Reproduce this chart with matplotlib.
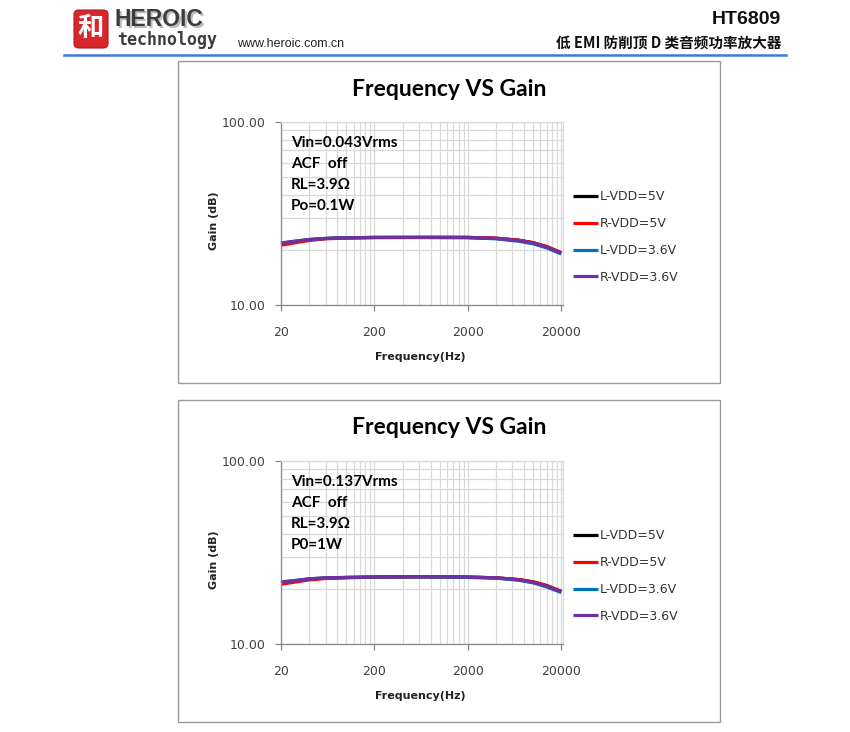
import numpy as np
import matplotlib
matplotlib.use("Agg")
import matplotlib.pyplot as plt
from matplotlib.patches import Rectangle, FancyBboxPatch
from matplotlib.lines import Line2D
from matplotlib.ticker import FixedLocator, NullFormatter, FixedFormatter

W, H = 850, 732

# ---- data ----
freq = [20, 30, 40, 60, 100, 200, 500, 1000, 2000, 4000, 7000, 10000, 14000, 20000]

series_names = ["L-VDD=5V", "R-VDD=5V", "L-VDD=3.6V", "R-VDD=3.6V"]
series_colors = ["#000000", "#ff0000", "#0070c0", "#7030a0"]

gain1_l5 = [21.6, 22.3, 22.7, 23.1, 23.3, 23.4, 23.4, 23.4, 23.4, 23.15, 22.6, 21.9, 20.8, 19.3]
gain1_r5 = [21.2, 22.0, 22.5, 23.0, 23.2, 23.4, 23.4, 23.45, 23.4, 23.2, 22.6, 21.9, 20.9, 19.3]
gain1_l36 = [21.8, 22.4, 22.8, 23.1, 23.3, 23.35, 23.4, 23.35, 23.3, 23.0, 22.3, 21.6, 20.5, 19.0]
gain1_r36 = [21.8, 22.4, 22.8, 23.1, 23.3, 23.4, 23.4, 23.4, 23.4, 23.1, 22.5, 21.8, 20.7, 19.2]

gain2_l5 = [21.6, 22.2, 22.6, 22.9, 23.1, 23.2, 23.3, 23.3, 23.2, 23.0, 22.5, 21.8, 20.8, 19.4]
gain2_r5 = [21.2, 21.9, 22.4, 22.8, 23.0, 23.2, 23.3, 23.3, 23.2, 23.0, 22.5, 21.9, 20.9, 19.4]
gain2_l36 = [21.8, 22.3, 22.7, 23.0, 23.1, 23.2, 23.3, 23.2, 23.1, 22.9, 22.3, 21.6, 20.5, 19.1]
gain2_r36 = [21.8, 22.3, 22.7, 23.0, 23.1, 23.2, 23.3, 23.3, 23.2, 23.0, 22.4, 21.7, 20.7, 19.3]

notes1 = ["Vin=0.043Vrms", "ACF  off", "RL=3.9\u03a9", "Po=0.1W"]
notes2 = ["Vin=0.137Vrms", "ACF  off", "RL=3.9\u03a9", "P0=1W"]

x_ticks = [20, 200, 2000, 20000]
x_minor = [20 * k * 10 ** n for n in range(3) for k in range(2, 10)]
y_ticks = [10, 100]
y_minor = [20, 30, 40, 50, 60, 70, 80, 90]

title = "Frequency VS Gain"
cn_title = "低 EMI 防削顶 D 类音频功率放大器"


def px(x, y):
    # pixel (from top-left) -> figure fraction
    return x / W, 1 - y / H


fig = plt.figure(figsize=(W / 100, H / 100), dpi=100)
fig.patch.set_facecolor("white")

# ---- header ----
lx, ly = px(74, 48)
fig.patches.append(FancyBboxPatch((lx, ly), 34 / W, 38 / H, boxstyle="round,pad=0,rounding_size=0.006",
                                  transform=fig.transFigure, facecolor="#d8262c", edgecolor="#b01a20", lw=0.8))
fig.text(*px(91, 29), "和", fontsize=19, color="white", ha="center", va="center",
         family=["Noto Sans CJK SC", "DejaVu Sans"], fontweight="bold")
fig.text(*px(116.5, 21.5), "HEROIC", fontsize=16.5, fontweight="bold", color="#bbbbbb", ha="left", va="center",
         family="Liberation Sans")
fig.text(*px(115, 20), "HEROIC", fontsize=16.5, fontweight="bold", color="#3c3c3c", ha="left", va="center",
         family="Liberation Sans")
fig.text(*px(117, 40), "technology", fontsize=12, fontweight="bold", color="#3c3c3c", ha="left",
         va="center", family="DejaVu Sans Mono")
fig.text(*px(237, 44), "www.heroic.com.cn", fontsize=9, color="#222222", ha="left", va="center",
         family="Liberation Sans")
fig.text(*px(781, 20), "HT6809", fontsize=14, fontweight="bold", color="#111111", ha="right", va="center",
         family="Liberation Sans")
fig.text(*px(781, 44), cn_title, fontsize=10.5, fontweight="bold", color="#111111", ha="right", va="center",
         family=["Noto Sans CJK SC", "DejaVu Sans"])
fig.lines.append(Line2D([64 / W, 786 / W], [1 - 55 / H, 1 - 55 / H], transform=fig.transFigure,
                        color="#3f78dc", lw=1.8))


def draw_chart(top, gains, notes):
    # outer chart box
    bx, by = px(178, top + 322)
    fig.patches.append(Rectangle((bx, by), 542 / W, 322 / H, transform=fig.transFigure,
                                 facecolor="none", edgecolor="#9a9a9a", lw=1.0, zorder=-1))
    fig.text(*px(449, top + 28), title, fontsize=16.5, fontweight="bold", ha="center", va="center",
             family="Lato", color="#000000")

    left, right = 281, 563
    ytop, ybot = top + 61, top + 244
    ax = fig.add_axes([left / W, 1 - ybot / H, (right - left) / W, (ybot - ytop) / H])
    ax.patch.set_alpha(0)
    ax.set_xscale("log")
    ax.set_yscale("log")
    ax.set_xlim(20, 20900)
    ax.set_ylim(10, 100)

    ax.xaxis.set_major_locator(FixedLocator(x_ticks))
    ax.xaxis.set_major_formatter(FixedFormatter([str(t) for t in x_ticks]))
    ax.xaxis.set_minor_locator(FixedLocator(x_minor))
    ax.xaxis.set_minor_formatter(NullFormatter())
    ax.yaxis.set_major_locator(FixedLocator(y_ticks))
    ax.yaxis.set_major_formatter(FixedFormatter(["%.2f" % t for t in y_ticks]))
    ax.yaxis.set_minor_locator(FixedLocator(y_minor))
    ax.yaxis.set_minor_formatter(NullFormatter())

    ax.grid(True, which="both", color="#d9d9d9", lw=0.9)
    ax.set_axisbelow(True)
    ax.tick_params(which="major", length=4, width=0.9, color="#868686", labelsize=9,
                   labelcolor="#404040", direction="out")
    ax.tick_params(axis="x", which="major", pad=11)
    ax.tick_params(axis="y", which="major", pad=7)
    ax.tick_params(which="minor", length=0)
    for lab in ax.get_xticklabels() + ax.get_yticklabels():
        lab.set_family("DejaVu Sans")
    for s in ["left", "bottom"]:
        ax.spines[s].set_color("#868686")
        ax.spines[s].set_linewidth(0.9)
    for s in ["top", "right"]:
        ax.spines[s].set_color("#d9d9d9")
        ax.spines[s].set_linewidth(0.9)

    for g, name, c in zip(gains, series_names, series_colors):
        ax.plot(freq, g, color=c, lw=2.3, label=name, solid_capstyle="butt", clip_on=False)

    for i, t in enumerate(notes):
        ax.text(0.035, (ybot - (top + 82 + 21 * i)) / (ybot - ytop), t, transform=ax.transAxes,
                fontsize=11, fontweight="bold", family="Lato", ha="left", va="center")

    ax.text((214 - left) / (right - left), (ybot - (top + 160)) / (ybot - ytop), "Gain (dB)",
            transform=ax.transAxes, rotation=90, fontsize=8, fontweight="bold", family="DejaVu Sans",
            ha="center", va="center", color="#222222")
    ax.text((420 - left) / (right - left), (ybot - (top + 296)) / (ybot - ytop), "Frequency(Hz)",
            transform=ax.transAxes, fontsize=8, fontweight="bold", family="DejaVu Sans",
            ha="center", va="center", color="#222222")

    leg = ax.legend(loc="center left", bbox_to_anchor=((573 - left) / (right - left), (ybot - (top + 176)) / (ybot - ytop)),
                    frameon=False, fontsize=9, handlelength=2.0, handletextpad=0.15, labelspacing=1.1,
                    borderpad=0, borderaxespad=0)
    for t in leg.get_texts():
        t.set_color("#333333")
    return ax


draw_chart(61, [gain1_l5, gain1_r5, gain1_l36, gain1_r36], notes1)
draw_chart(400, [gain2_l5, gain2_r5, gain2_l36, gain2_r36], notes2)

fig.savefig("out.png", dpi=100, facecolor="white")
